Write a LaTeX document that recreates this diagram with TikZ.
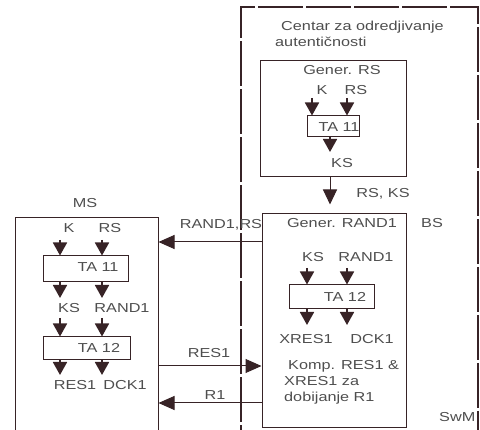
\documentclass[tikz,border=0pt]{standalone}
\usepackage{fontspec}
\setmainfont[FakeStretch=1.25]{Liberation Sans}
\usetikzlibrary{arrows.meta}
\definecolor{lc}{RGB}{55,35,38}
\definecolor{tc}{RGB}{78,78,78}
\begin{document}
\begin{tikzpicture}[x=1pt,y=-1pt,
  every node/.style={font=\fontsize{13}{16}\selectfont, text=tc, inner sep=0pt},
  box/.style={draw=lc, line width=1pt, rectangle, inner sep=0pt},
  tri/.style={draw=lc, line width=1.8pt, -{Triangle[width=14pt,length=13pt]}},
  conn/.style={draw=lc, line width=1pt, -{Triangle[width=14pt,length=16pt]}},
  outerb/.style={draw=lc, line width=2.6pt, dash pattern=on 45pt off 3pt}]
\useasboundingbox (0,0) rectangle (480,430);
\clip (0,0) rectangle (480,430);
% outer BS border
\draw[outerb] (241,470) -- (241,7) -- (478,7) -- (478,470);
% boxes
\node[box, minimum width=146pt, minimum height=116pt] (genrs) at (333,119) {};
\node[box, minimum width=52pt, minimum height=21pt] (tatop) at (333,126.5) {};
\node[box, minimum width=144pt, minimum height=214pt] (genrand) at (334,321) {};
\node[box, minimum width=85pt, minimum height=24pt] (tabs) at (331.5,297) {};
\node[box, minimum width=143pt, minimum height=230pt] (ms) at (86.5,333) {};
\node[box, minimum width=85pt, minimum height=26pt] (tams1) at (85.5,269) {};
\node[box, minimum width=87pt, minimum height=23pt] (tams2) at (86.5,348.5) {};
% texts
\node[anchor=base west] (centar) at (281,31) {Centar za odredjivanje};
\node[anchor=base west] (autent) at (275,47) {autentičnosti};
\node[anchor=base] (tgenrs) at (342,75) {Gener. RS};
\node[anchor=base] (kt) at (322,95) {K};
\node[anchor=base] (rst) at (356,95) {RS};
\node[anchor=base] (tta11) at (339,132) {TA 11};
\node[anchor=base] (kst) at (342,168) {KS};
\node[anchor=base] (rsks) at (383,198) {RS, KS};
\node[anchor=base] (tgenrand) at (342,228) {Gener. RAND1};
\node[anchor=base] (bs) at (432,228) {BS};
\node[anchor=base] (ksb) at (313,262) {KS};
\node[anchor=base] (randb) at (366,262) {RAND1};
\node[anchor=base] (tta12b) at (345,302) {TA 12};
\node[anchor=base] (xres) at (306,344) {XRES1};
\node[anchor=base] (dckb) at (372,344) {DCK1};
\node[anchor=base west] (komp1) at (288,370) {Komp. RES1 \&};
\node[anchor=base west] (komp2) at (284,386) {XRES1 za};
\node[anchor=base west] (komp3) at (284,402) {dobijanje R1};
\node[anchor=base west] (swm) at (439,422) {SwM};
\node[anchor=base] (mst) at (85,208) {MS};
\node[anchor=base] (kms) at (69,233) {K};
\node[anchor=base] (rsms) at (110,233) {RS};
\node[anchor=base] (tta11m) at (98,272) {TA 11};
\node[anchor=base] (ksms) at (69,313) {KS};
\node[anchor=base] (randms) at (122,313) {RAND1};
\node[anchor=base] (tta12m) at (99,353) {TA 12};
\node[anchor=base] (resms) at (75,390) {RES1};
\node[anchor=base] (dckms) at (125,390) {DCK1};
\node[anchor=base] (lrandrs) at (221,229) {RAND1,RS};
\node[anchor=base] (lres) at (209,358) {RES1};
\node[anchor=base] (lr1) at (215,400) {R1};
% helper coordinates
\coordinate (a1) at (312,98);
\coordinate (a2) at (347,98);
\coordinate (a3) at (330,152);
\coordinate (b1) at (307,268);
\coordinate (b2) at (347,268);
\coordinate (b3) at (307,325);
\coordinate (b4) at (347,325);
\coordinate (m1) at (60,240);
\coordinate (m2) at (102,240);
\coordinate (m3) at (60,298);
\coordinate (m4) at (102,298);
\coordinate (m5) at (60,318);
\coordinate (m6) at (102,318);
\coordinate (m7) at (60,375);
\coordinate (m8) at (102,375);
\coordinate (xc) at (330,0);
\coordinate (y1) at (0,242);
\coordinate (y2) at (0,366);
\coordinate (y3) at (0,403);
% triangles
\draw[tri] (a1) -- (a1 |- tatop.north);
\draw[tri] (a2) -- (a2 |- tatop.north);
\draw[tri] (a3 |- tatop.south) -- (a3);
\draw[tri] (b1) -- (b1 |- tabs.north);
\draw[tri] (b2) -- (b2 |- tabs.north);
\draw[tri] (b3 |- tabs.south) -- (b3);
\draw[tri] (b4 |- tabs.south) -- (b4);
\draw[tri] (m1) -- (m1 |- tams1.north);
\draw[tri] (m2) -- (m2 |- tams1.north);
\draw[tri] (m3 |- tams1.south) -- (m3);
\draw[tri] (m4 |- tams1.south) -- (m4);
\draw[tri] (m5) -- (m5 |- tams2.north);
\draw[tri] (m6) -- (m6 |- tams2.north);
\draw[tri] (m7 |- tams2.south) -- (m7);
\draw[tri] (m8 |- tams2.south) -- (m8);
% connectors
\draw[draw=lc, line width=1pt, shorten >=9pt, -{Triangle[width=14pt,length=15pt]}] (xc |- genrs.south) -- (xc |- genrand.north);
\draw[conn] (genrand.west |- y1) -- (ms.east |- y1);
\draw[conn] (ms.east |- y2) -- (genrand.west |- y2);
\draw[conn] (genrand.west |- y3) -- (ms.east |- y3);
\end{tikzpicture}
\end{document}
